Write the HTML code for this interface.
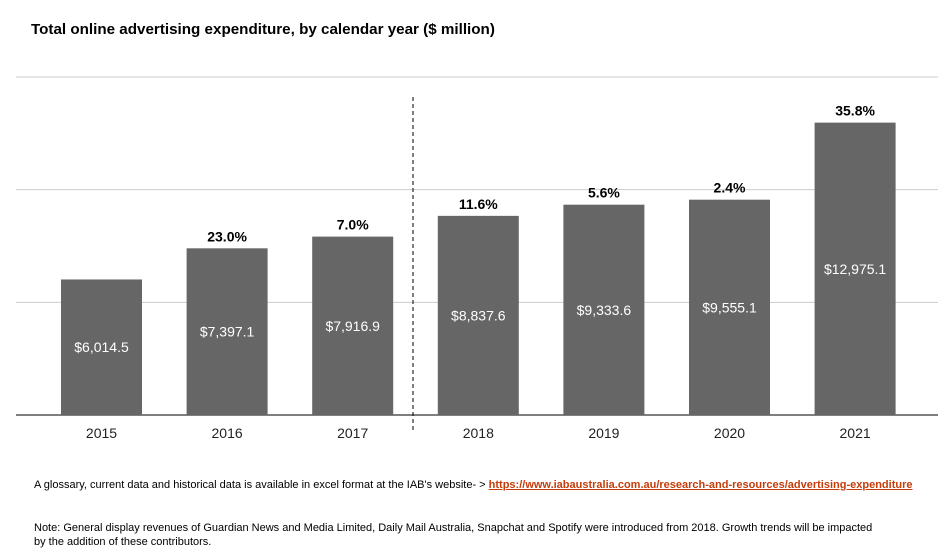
<!DOCTYPE html>
<html><head><meta charset="utf-8"><style>
body{margin:0;background:#fff;font-family:"Liberation Sans",sans-serif;}
#wrap{position:relative;width:943px;height:552px;overflow:hidden;}
.t{position:absolute;left:31px;top:21px;font-weight:bold;font-size:15.2px;color:#000;}
.n{position:absolute;left:34px;font-size:11px;color:#000;}
a{color:#c43d0a;font-weight:bold;}
</style></head><body><div id="wrap">
<div class="t">Total online advertising expenditure, by calendar year ($ million)</div>
<svg id="c" width="943" height="552" style="position:absolute;left:0;top:0"></svg>
<div class="n" style="top:479px">A glossary, current data and historical data is available in excel format at the IAB's website- &gt; <a href="#">https://www.iabaustralia.com.au/research-and-resources/advertising-expenditure</a></div>
<div class="n" style="top:521px;line-height:14px;width:850px">Note: General display revenues of Guardian News and Media Limited, Daily Mail Australia, Snapchat and Spotify were introduced from 2018. Growth trends will be impacted by the addition of these contributors.</div>
</div>
<script>
const categories=["2015","2016","2017","2018","2019","2020","2021"];
const values=[6014.5,7397.1,7916.9,8837.6,9333.6,9555.1,12975.1];
const valueLabels=["$6,014.5","$7,397.1","$7,916.9","$8,837.6","$9,333.6","$9,555.1","$12,975.1"];
const growth=["","23.0%","7.0%","11.6%","5.6%","2.4%","35.8%"];
const gridTicks=[0,5000,10000,15000];
const NS="http://www.w3.org/2000/svg";
const svg=document.getElementById('c');
const y0=415,yTop=77,maxV=15000;
const y=v=>y0-(v/maxV)*(y0-yTop);
const step=125.6,first=101.5,bw=81;
const x=i=>first+i*step;
function mk(t,a){const e=document.createElementNS(NS,t);for(const k in a)e.setAttribute(k,a[k]);svg.appendChild(e);return e;}
gridTicks.forEach((g,i)=>{
 const l=mk('line',{x1:16,x2:938,y1:y(g),y2:y(g),stroke:i==0?'#333':'#ccc','stroke-width':i==0?1.3:1});
 
 
});
const d=mk('line',{x1:413,x2:413,y1:97,y2:432,stroke:'#000','stroke-dasharray':'4,3'});


values.forEach((v,i)=>{
 const cx=x(i);
 const r=mk('rect',{x:cx-bw/2,y:y(v),width:bw,height:y0-y(v),fill:'#666666'});
 
 
 const t=mk('text',{x:cx,y:(y(v)+y0)/2+5,'text-anchor':'middle',fill:'#fff','font-size':14,'font-family':'Liberation Sans, sans-serif'});
 t.textContent=valueLabels[i];
 
 
 if(growth[i]){
  const g=mk('text',{x:cx,y:y(v)-7,'text-anchor':'middle',fill:'#000','font-size':14,'font-weight':'bold','font-family':'Liberation Sans, sans-serif'});
  g.textContent=growth[i];
  
  
 }
 const c=mk('text',{x:cx,y:438,'text-anchor':'middle',fill:'#222','font-size':14,'font-family':'Liberation Sans, sans-serif'});
 c.textContent=categories[i];
 
 
});
</script></body></html>
